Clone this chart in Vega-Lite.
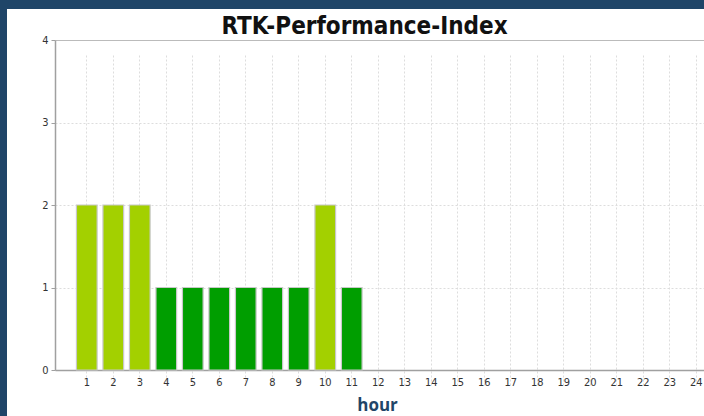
{
  "$schema": "https://vega.github.io/schema/vega-lite/v6.json",
  "width": 697,
  "height": 407,
  "autosize": {"type": "none"},
  "padding": {"left": 7, "top": 9, "right": 0, "bottom": 0},
  "background": "#1f4568",
  "title": {
    "text": "RTK-Performance-Index",
    "font": "DejaVu Sans Condensed, DejaVu Sans",
    "fontSize": 24,
    "fontWeight": "bold",
    "color": "#111111",
    "anchor": "middle",
    "frame": "group",
    "offset": -30,
    "dx": 9
  },
  "config": {"view": {"fill": "white", "stroke": null}},
  "data": {
    "values": [
      {"hour": 1, "value": 2, "grade": "high"},
      {"hour": 2, "value": 2, "grade": "high"},
      {"hour": 3, "value": 2, "grade": "high"},
      {"hour": 4, "value": 1, "grade": "low"},
      {"hour": 5, "value": 1, "grade": "low"},
      {"hour": 6, "value": 1, "grade": "low"},
      {"hour": 7, "value": 1, "grade": "low"},
      {"hour": 8, "value": 1, "grade": "low"},
      {"hour": 9, "value": 1, "grade": "low"},
      {"hour": 10, "value": 2, "grade": "high"},
      {"hour": 11, "value": 1, "grade": "low"}
    ]
  },
  "mark": {"type": "bar", "stroke": "#c8c8c8", "strokeWidth": 1.2},
  "encoding": {
    "x": {
      "field": "hour",
      "type": "ordinal",
      "scale": {
        "domain": [1,2,3,4,5,6,7,8,9,10,11,12,13,14,15,16,17,18,19,20,21,22,23,24],
        "range": [48, 721],
        "paddingInner": 0.22,
        "paddingOuter": 0.81
      },
      "axis": {
        "orient": "bottom",
        "offset": -46,
        "domainColor": "#a0a0a0",
        "domainWidth": 1.5,
        "ticks": false,
        "labelAngle": 0,
        "labelFont": "DejaVu Sans Condensed, DejaVu Sans",
        "labelFontSize": 11,
        "labelColor": "#333333",
        "labelPadding": 6,
        "grid": true,
        "gridColor": "#dddddd",
        "gridDash": [2, 2],
        "title": "hour",
        "titleFont": "Open Sans",
        "titleFontSize": 17,
        "titleFontWeight": "bold",
        "titleColor": "#1f4568",
        "titleX": 370,
        "titlePadding": 10
      }
    },
    "y": {
      "field": "value",
      "type": "quantitative",
      "scale": {"domain": [0, 4], "range": [361, 31], "nice": false, "zero": true},
      "axis": {
        "orient": "left",
        "offset": -48,
        "values": [0, 1, 2, 3, 4],
        "domainColor": "#a0a0a0",
        "domainWidth": 1.5,
        "tickColor": "#a0a0a0",
        "tickSize": 4,
        "labelFont": "DejaVu Sans Condensed, DejaVu Sans",
        "labelFontSize": 11,
        "labelColor": "#333333",
        "labelPadding": 3,
        "title": null,
        "grid": true,
        "gridColor": {"condition": {"test": "datum.value == 4", "value": "#bbbbbb"}, "value": "#dddddd"},
        "gridDash": {"condition": {"test": "datum.value == 4", "value": []}, "value": [2, 2]}
      }
    },
    "color": {
      "field": "grade",
      "type": "nominal",
      "scale": {"domain": ["high", "low"], "range": ["#a3d000", "#009e00"]},
      "legend": null
    }
  }
}
